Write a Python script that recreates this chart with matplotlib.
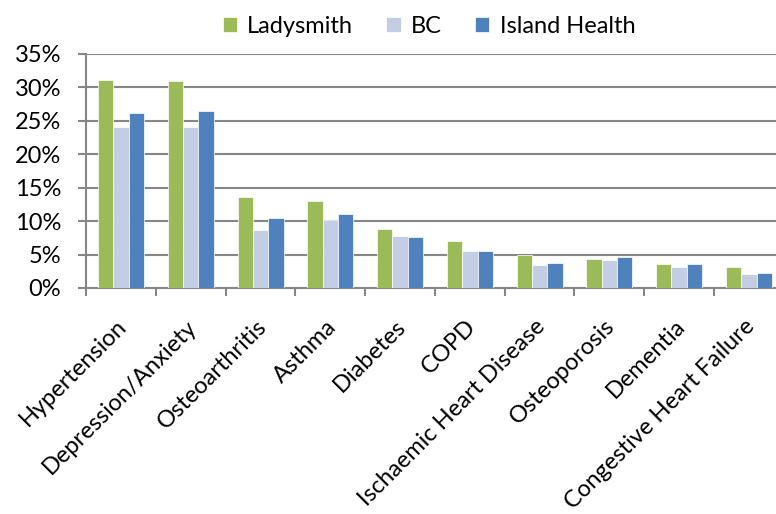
import numpy as np
import matplotlib.pyplot as plt
from matplotlib.ticker import PercentFormatter
from matplotlib.transforms import ScaledTranslation

conditions = ["Hypertension", "Depression/Anxiety", "Osteoarthritis", "Asthma", "Diabetes",
              "COPD", "Ischaemic Heart Disease", "Osteoporosis", "Dementia", "Congestive Heart Failure"]
ladysmith = [31.1, 31.0, 13.6, 13.0, 8.8, 7.1, 4.9, 4.4, 3.6, 3.2]
bc = [24.1, 24.1, 8.6, 10.1, 7.8, 5.6, 3.4, 4.2, 3.1, 2.1]
island_health = [26.2, 26.5, 10.4, 11.0, 7.7, 5.6, 3.7, 4.7, 3.6, 2.3]

series_names = ["Ladysmith", "BC", "Island Health"]
colors = ["#9BBB59", "#C3CDE3", "#4F81BD"]

plt.rcParams['font.family'] = ['Lato', 'DejaVu Sans']

fig = plt.figure(figsize=(7.76, 5.14), dpi=100)
ax = fig.add_axes([0.111, 0.4397, 0.899, 0.4553])

x = np.arange(len(conditions))
w = 0.22
for i, (vals, name, c) in enumerate(zip([ladysmith, bc, island_health], series_names, colors)):
    ax.bar(x + (i - 1) * w, vals, w, color=c, label=name, edgecolor="white", linewidth=0.5, zorder=3)

ax.set_xlim(-0.5, len(conditions) - 0.5)
ax.set_ylim(0, 35)
ax.set_yticks(np.arange(0, 36, 5))
ax.yaxis.set_major_formatter(PercentFormatter(decimals=0))
ax.yaxis.grid(True, color="#868686", linewidth=1.5, zorder=0)

ax.set_xticks(x)
ax.set_xticklabels(conditions, rotation=45, ha="right", rotation_mode="anchor")
ax.set_xticks(np.arange(-0.5, len(conditions), 1), minor=True)
ax.tick_params(axis="x", which="major", length=0, pad=20, labelsize=17)
ax.tick_params(axis="x", which="minor", length=6, width=1.5, color="#868686")
ax.tick_params(axis="y", length=6, width=1.5, color="#868686", labelsize=17, pad=12)

# nudge rotated labels a little to the left
shift = ScaledTranslation(-5 / 100, 0, fig.dpi_scale_trans)
for lab in ax.get_xticklabels():
    lab.set_transform(lab.get_transform() + shift)

for s in ["top", "right"]:
    ax.spines[s].set_visible(False)
for s in ["left", "bottom"]:
    ax.spines[s].set_color("#868686")
    ax.spines[s].set_linewidth(1.5)

fig.legend(loc="upper center", bbox_to_anchor=(0.553, 1.01), ncol=3, frameon=False,
           fontsize=17, handlelength=0.6, handleheight=0.6, columnspacing=1.4, handletextpad=0.45)

fig.savefig("out.png", dpi=100)
